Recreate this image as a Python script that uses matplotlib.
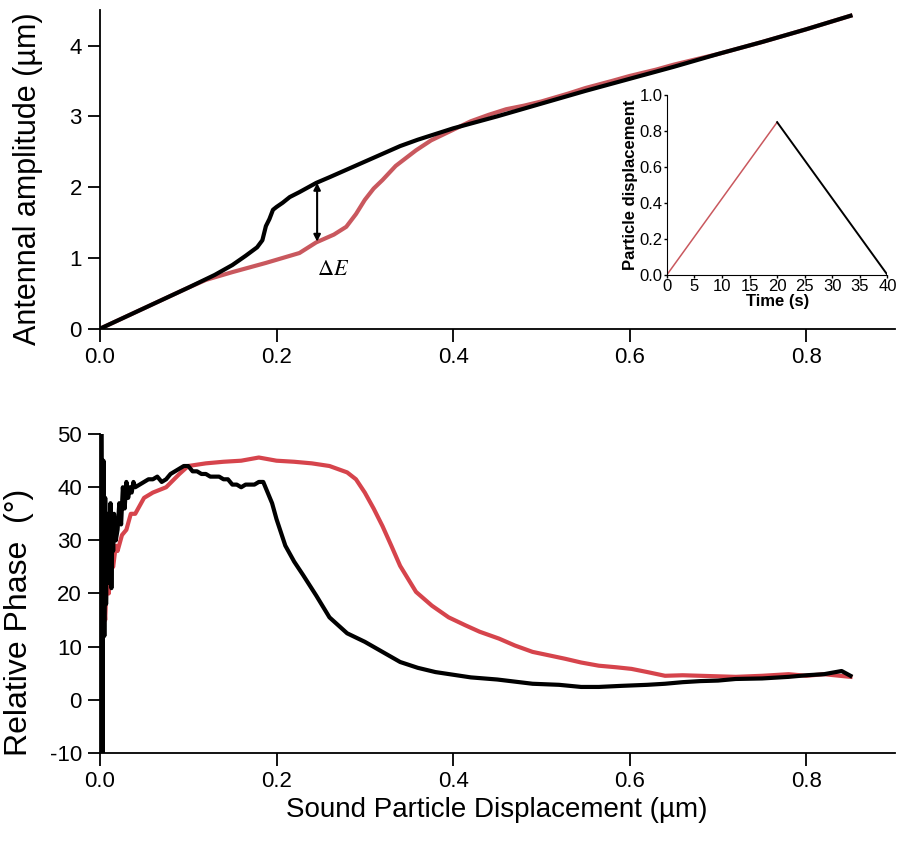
import numpy as np
import matplotlib.pyplot as plt

plt.rcParams['font.family'] = ['Liberation Sans', 'DejaVu Sans']
plt.rcParams['axes.unicode_minus'] = False

# top panel: antennal amplitude vs sound particle displacement
amp_x_black = [0, 0.05, 0.10, 0.13, 0.15, 0.165, 0.178, 0.184, 0.188, 0.192, 0.196, 0.20,
               0.207, 0.215, 0.226, 0.245, 0.26, 0.28, 0.30, 0.32, 0.34, 0.36, 0.38, 0.40,
               0.45, 0.50, 0.55, 0.60, 0.65, 0.70, 0.75, 0.80, 0.85]
amp_black = [0, 0.29, 0.58, 0.76, 0.9, 1.03, 1.15, 1.25, 1.45, 1.55, 1.68, 1.72,
             1.78, 1.86, 1.93, 2.06, 2.14, 2.25, 2.36, 2.47, 2.58, 2.67, 2.75, 2.83,
             3.0, 3.18, 3.36, 3.53, 3.7, 3.88, 4.05, 4.23, 4.42]

amp_x_red = [0, 0.05, 0.10, 0.12, 0.15, 0.188, 0.226, 0.245, 0.265, 0.279, 0.29, 0.30,
             0.31, 0.32, 0.335, 0.358, 0.375, 0.395, 0.42, 0.44, 0.46, 0.48, 0.50, 0.53,
             0.55, 0.58, 0.60, 0.63, 0.65, 0.70, 0.75, 0.80, 0.85]
amp_red = [0, 0.29, 0.58, 0.69, 0.80, 0.93, 1.07, 1.22, 1.33, 1.44, 1.62, 1.82,
           1.98, 2.1, 2.3, 2.52, 2.66, 2.78, 2.93, 3.02, 3.1, 3.15, 3.21, 3.32,
           3.4, 3.5, 3.57, 3.66, 3.73, 3.88, 4.05, 4.23, 4.42]

# bottom panel: relative phase
ph_x_black = [0.000, 0.002, 0.003, 0.004, 0.005, 0.006, 0.007, 0.008, 0.009, 0.010,
              0.011, 0.012, 0.013, 0.014, 0.015, 0.016, 0.018, 0.020, 0.022, 0.024,
              0.026, 0.028, 0.030, 0.032, 0.034, 0.036, 0.038, 0.040, 0.045, 0.05,
              0.055, 0.06, 0.065, 0.07, 0.075, 0.08, 0.085, 0.09, 0.095, 0.10,
              0.105, 0.11, 0.115, 0.12, 0.125, 0.13, 0.135, 0.14, 0.145, 0.15,
              0.155, 0.16, 0.165, 0.17, 0.175, 0.18, 0.185, 0.19, 0.195, 0.20,
              0.21, 0.22, 0.23, 0.245, 0.26, 0.28, 0.30, 0.32, 0.34, 0.36,
              0.38, 0.40, 0.42, 0.45, 0.49, 0.52, 0.545, 0.565, 0.59, 0.62,
              0.64, 0.66, 0.68, 0.70, 0.72, 0.75, 0.78, 0.80, 0.82, 0.84, 0.85]
ph_black = [50, 50, -10, 45, 12, 38, 18, 35, 22, 33,
            25, 37, 21, 34, 28, 35, 30, 32, 37, 33,
            40, 36, 41, 38, 40, 39, 41, 40, 40.5, 41,
            41.5, 41.5, 42, 41, 41.5, 42.5, 43, 43.5, 44, 44,
            43, 43, 42.5, 42.5, 42, 42, 42, 41.5, 41.5, 40.5,
            40.5, 40, 40.5, 40.5, 40.5, 41, 41, 39, 37, 34,
            29, 26, 23.5, 19.6, 15.5, 12.5, 10.9, 9, 7.1, 6,
            5.2, 4.7, 4.2, 3.8, 3, 2.8, 2.4, 2.4, 2.6, 2.8,
            3.0, 3.3, 3.5, 3.6, 3.9, 4, 4.3, 4.6, 4.8, 5.4, 4.5]

ph_x_red = [0.002, 0.004, 0.006, 0.008, 0.010, 0.012, 0.015, 0.018, 0.02, 0.025,
            0.03, 0.035, 0.04, 0.05, 0.06, 0.075, 0.09, 0.10, 0.12, 0.14,
            0.16, 0.18, 0.20, 0.22, 0.24, 0.26, 0.28, 0.29, 0.30, 0.31,
            0.32, 0.33, 0.34, 0.358, 0.376, 0.395, 0.414, 0.43, 0.452, 0.47,
            0.49, 0.51, 0.527, 0.545, 0.565, 0.585, 0.602, 0.62, 0.64, 0.66,
            0.68, 0.70, 0.72, 0.75, 0.78, 0.80, 0.82, 0.85]
ph_red = [13, 20, 15, 24, 20, 27, 25, 29, 28, 31,
          32, 35, 35, 38, 39, 40, 42.5, 44, 44.5, 44.8,
          45, 45.6, 45, 44.8, 44.5, 44, 42.8, 41.5, 39, 36,
          32.7, 29, 25.2, 20.3, 17.7, 15.5, 14, 12.8, 11.5, 10.2,
          9, 8.3, 7.7, 7, 6.4, 6.1, 5.8, 5.2, 4.5, 4.6,
          4.5, 4.4, 4.3, 4.5, 4.8, 4.5, 4.8, 4.3]

# inset: stimulus ramp
ramp_t_up = [0, 20]
ramp_up = [0, 0.85]
ramp_t_down = [20, 40]
ramp_down = [0.85, 0]

red_top = '#c9585e'
red_bot = '#d6444c'

fig = plt.figure(figsize=(9, 8.43), dpi=100)


def style(ax):
    for s in ['top', 'right']:
        ax.spines[s].set_visible(False)
    for s in ['left', 'bottom']:
        ax.spines[s].set_linewidth(1.3)
    ax.tick_params(direction='out', length=9, width=1.3, labelsize=16, pad=4)


ax1 = fig.add_axes([0.111, 0.610, 0.883, 0.378])
ax1.plot(amp_x_red, amp_red, color=red_top, lw=3)
ax1.plot(amp_x_black, amp_black, color='black', lw=3)
ax1.set_xlim(0, 0.9)
ax1.set_ylim(0, 4.5)
ax1.set_xticks([0.0, 0.2, 0.4, 0.6, 0.8])
ax1.set_xticklabels(['0.0', '0.2', '0.4', '0.6', '0.8'])
ax1.set_yticks([0, 1, 2, 3, 4])
ax1.set_ylabel('Antennal amplitude (µm)', fontsize=22)
ax1.yaxis.set_label_coords(-0.071, 0.47)
style(ax1)
ax1.annotate('', xy=(0.246, 1.23), xytext=(0.246, 2.06),
             arrowprops=dict(arrowstyle='<|-|>', color='black', lw=1.5,
                             mutation_scale=10, shrinkA=0, shrinkB=0))
ax1.text(0.264, 0.83, r'$\Delta E$', fontsize=16, ha='center', va='center',
         math_fontfamily='stix')

ax2 = fig.add_axes([0.111, 0.107, 0.883, 0.378])
ax2.plot(ph_x_red, ph_red, color=red_bot, lw=3)
ax2.plot(ph_x_black, ph_black, color='black', lw=3)
ax2.set_xlim(0, 0.9)
ax2.set_ylim(-10, 50)
ax2.set_xticks([0.0, 0.2, 0.4, 0.6, 0.8])
ax2.set_xticklabels(['0.0', '0.2', '0.4', '0.6', '0.8'])
ax2.set_yticks([-10, 0, 10, 20, 30, 40, 50])
ax2.set_ylabel('Relative Phase  (°)', fontsize=23)
ax2.yaxis.set_label_coords(-0.083, 0.41)
ax2.set_xlabel('Sound Particle Displacement (µm)', fontsize=20, labelpad=4)
style(ax2)

ax3 = fig.add_axes([0.741, 0.674, 0.245, 0.213])
ax3.plot(ramp_t_up, ramp_up, color=red_top, lw=1.1)
ax3.plot(ramp_t_down, ramp_down, color='black', lw=1.4)
ax3.set_xlim(0, 40)
ax3.set_ylim(0, 1.0)
ax3.set_xticks(range(0, 41, 5))
ax3.set_yticks([0.0, 0.2, 0.4, 0.6, 0.8, 1.0])
ax3.set_yticklabels(['0.0', '0.2', '0.4', '0.6', '0.8', '1.0'])
for s in ['top', 'right']:
    ax3.spines[s].set_visible(False)
ax3.tick_params(length=2, width=1, labelsize=12, pad=1)
ax3.set_xlabel('Time (s)', fontsize=12, fontweight='bold', labelpad=0)
ax3.set_ylabel('Particle displacement', fontsize=12, fontweight='bold', labelpad=1)

fig.savefig('out.png', dpi=100)
